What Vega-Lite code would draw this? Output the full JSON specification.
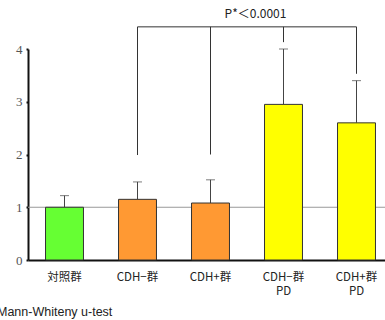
{
  "$schema": "https://vega.github.io/schema/vega-lite/v6.json",
  "width": 365,
  "height": 211,
  "autosize": {"type": "none"},
  "padding": {"left": 28, "top": 49, "right": 0, "bottom": 60},
  "background": "white",
  "title": {"text": "Mann-Whiteny u-test", "orient": "bottom", "anchor": "start", "frame": "group", "dx": -31, "offset": 9, "fontSize": 12.5, "fontWeight": "normal", "font": "Liberation Sans", "color": "#222"},
  "datasets": {
    "bars": [
      {"group": "対照群", "value": 1.0, "err": 1.22},
      {"group": "CDH−群", "value": 1.15, "err": 1.48},
      {"group": "CDH+群", "value": 1.08, "err": 1.52},
      {"group": "CDH−群|PD", "value": 2.95, "err": 4.0},
      {"group": "CDH+群|PD", "value": 2.6, "err": 3.4}
    ],
    "legs": [
      {"group": "CDH−群", "bottom": 1.99, "top": 4.42},
      {"group": "CDH+群", "bottom": 2.0, "top": 4.42},
      {"group": "CDH−群|PD", "bottom": 4.13, "top": 4.42},
      {"group": "CDH+群|PD", "bottom": 3.53, "top": 4.42}
    ],
    "span": [{"group": "CDH−群", "to": "CDH+群|PD", "y": 4.42}],
    "note": [{"group": "CDH+群", "y": 4.66, "text": "P*＜0.0001"}],
    "ref": [{"y": 1}]
  },
  "encoding": {
    "x": {
      "field": "group", "type": "nominal",
      "scale": {"domain": ["対照群", "CDH−群", "CDH+群", "CDH−群|PD", "CDH+群|PD"], "paddingInner": 0.48, "paddingOuter": 0.24},
      "axis": {
        "title": null, "labelAngle": 0, "labelExpr": "split(datum.value, '|')",
        "domainColor": "#111", "domainWidth": 2, "ticks": false,
        "labelFont": "Noto Sans CJK JP", "labelFontSize": 11.5, "labelColor": "#222",
        "labelPadding": 11, "labelLineHeight": 14, "labelOverlap": false
      }
    }
  },
  "layer": [
    {
      "data": {"name": "ref"},
      "mark": {"type": "rule", "color": "#999", "strokeWidth": 1},
      "encoding": {"x": null, "y": {"field": "y", "type": "quantitative"}}
    },
    {
      "data": {"name": "bars"},
      "mark": {"type": "rule", "color": "#444", "strokeWidth": 1},
      "encoding": {
        "y": {"field": "value", "type": "quantitative"},
        "y2": {"field": "err"}
      }
    },
    {
      "data": {"name": "bars"},
      "mark": {"type": "tick", "color": "#444", "thickness": 1, "size": 9},
      "encoding": {"y": {"field": "err", "type": "quantitative"}}
    },
    {
      "data": {"name": "bars"},
      "mark": {"type": "bar", "stroke": "#333", "strokeWidth": 1},
      "encoding": {
        "y": {
          "field": "value", "type": "quantitative",
          "scale": {"domain": [0, 4]},
          "axis": {
            "title": null, "values": [0, 1, 2, 3, 4], "format": "d", "grid": false,
            "domainColor": "#111", "domainWidth": 2, "tickSize": 2, "tickColor": "#111", "tickWidth": 2,
            "labelFont": "Liberation Serif", "labelFontSize": 13, "labelColor": "#555", "labelPadding": 4
          }
        },
        "color": {
          "field": "group", "type": "nominal",
          "scale": {"domain": ["対照群", "CDH−群", "CDH+群", "CDH−群|PD", "CDH+群|PD"], "range": ["#66ff33", "#ff9933", "#ff9933", "#ffff00", "#ffff00"]},
          "legend": null
        }
      }
    },
    {
      "data": {"name": "legs"},
      "mark": {"type": "rule", "color": "#333", "strokeWidth": 1},
      "encoding": {
        "y": {"field": "bottom", "type": "quantitative"},
        "y2": {"field": "top"}
      }
    },
    {
      "data": {"name": "span"},
      "mark": {"type": "rule", "color": "#333", "strokeWidth": 1},
      "encoding": {
        "x2": {"field": "to"},
        "y": {"field": "y", "type": "quantitative"}
      }
    },
    {
      "data": {"name": "note"},
      "mark": {"type": "text", "dx": 45, "font": "Noto Sans CJK JP", "fontSize": 12, "color": "#222", "baseline": "middle"},
      "encoding": {
        "y": {"field": "y", "type": "quantitative"},
        "text": {"field": "text"}
      }
    }
  ],
  "config": {"view": {"stroke": null}}
}
